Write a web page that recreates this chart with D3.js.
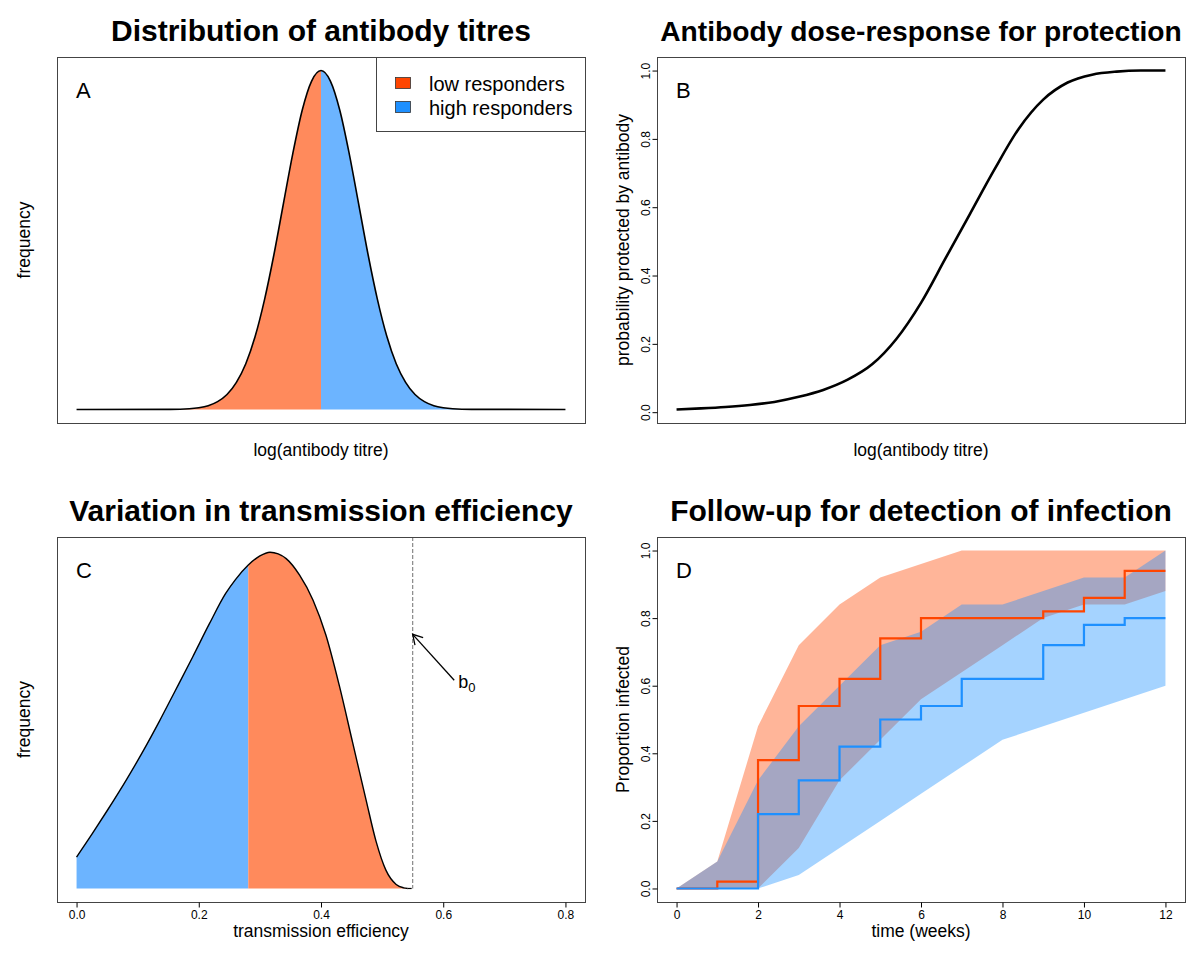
<!DOCTYPE html>
<html><head><meta charset="utf-8">
<script src="https://cdn.jsdelivr.net/npm/d3@7"></script>
<style>
body{margin:0;background:#fff}
svg{display:block}
text{font-family:"Liberation Sans",Arial,Helvetica,sans-serif;fill:#000}
</style>
</head><body>
<svg id="chart" width="1200" height="960"></svg>
<script>
// ---------- Panel A: distribution of antibody titres ----------
const titreX = [-6.5,-4,-3.5,-3.25,-3,-2.75,-2.5,-2.25,-2,-1.75,-1.5,-1.25,-1,-0.75,-0.5,-0.25,0,0.25,0.5,0.75,1,1.25,1.5,1.75,2,2.25,2.5,2.75,3,3.25,3.5,4,6.5];
const titreFreq = [0,0.0003,0.002,0.005,0.011,0.023,0.044,0.080,0.135,0.216,0.325,0.458,0.607,0.755,0.883,0.969,1.0,0.969,0.883,0.755,0.607,0.458,0.325,0.216,0.135,0.080,0.044,0.023,0.011,0.005,0.002,0.0003,0];
const titreSplit = 0;
const legendLabels = ["low responders","high responders"];

// ---------- Panel B: dose-response ----------
const doseX = [-6.5,-5.85,-5.2,-4.55,-3.9,-3.25,-2.6,-1.95,-1.3,-0.65,0,0.65,1.3,1.95,2.6,3.25,3.9,4.55,5.2,5.85,6.5];
const doseProb = [0.008,0.011,0.015,0.021,0.030,0.045,0.065,0.095,0.14,0.215,0.32,0.45,0.58,0.71,0.83,0.915,0.965,0.988,0.997,1.0,1.0];
const probTicks = [0,0.2,0.4,0.6,0.8,1.0];

// ---------- Panel C: transmission efficiency ----------
const effX = [0,0.026,0.05,0.081,0.11,0.135,0.16,0.19,0.217,0.244,0.26,0.281,0.30,0.3165,0.33,0.343,0.365,0.387,0.408,0.43,0.452,0.474,0.49,0.506,0.523,0.535,0.542];
const effFreq = [0.093,0.163,0.23,0.32,0.41,0.493,0.58,0.685,0.782,0.873,0.914,0.957,0.984,0.995,0.99,0.976,0.927,0.853,0.75,0.60,0.43,0.26,0.14,0.055,0.012,0.002,0];
const effSplit = 0.281;
const b0 = 0.55;
const effTicks = [0,0.2,0.4,0.6,0.8];
const arrowFrom = [0.618,0.616];
const arrowTo = [0.55,0.752];

// ---------- Panel D: follow-up ----------
const weeks = [0,1,2,3,4,5,6,7,8,9,10,11,12];
const lowUpper = [0,0.08,0.48,0.72,0.84,0.92,0.96,1.0,1.0,1.0,1.0,1.0,1.0];
const lowLower = [0,0,0,0.12,0.32,0.44,0.56,0.64,0.72,0.80,0.84,0.84,0.88];
const highUpper = [0,0.08,0.32,0.48,0.60,0.72,0.76,0.84,0.84,0.88,0.92,0.92,1.0];
const highLower = [0,0,0,0.04,0.12,0.20,0.28,0.36,0.44,0.48,0.52,0.56,0.60];
const lowObserved = [0,0.02,0.38,0.54,0.62,0.74,0.80,0.80,0.80,0.82,0.86,0.94,0.94];
const highObserved = [0,0,0.22,0.32,0.42,0.50,0.54,0.62,0.62,0.72,0.78,0.80,0.80];
const weekTicks = [0,2,4,6,8,10,12];

// ---------- styles ----------
const ORANGE_FILL = "#FF8A5C", BLUE_FILL = "#6CB4FF";
const ORANGE = "#FF4500", BLUE = "#1E90FF";
const BOX = "#444";

const svg = d3.select("#chart");

const panels = {
  A:{x0:57,x1:585,y0:57,y1:423},
  B:{x0:657,x1:1185,y0:57,y1:423},
  C:{x0:57,x1:585,y0:537,y1:902},
  D:{x0:657,x1:1185,y0:537,y1:902}
};

function padScale(ext, range){
  const pad=(ext[1]-ext[0])*0.04;
  return d3.scaleLinear().domain([ext[0]-pad, ext[1]+pad]).range(range);
}
function box(p){
  svg.append("rect").attr("x",p.x0+0.5).attr("y",p.y0+0.5)
    .attr("width",p.x1-p.x0).attr("height",p.y1-p.y0)
    .attr("fill","none").attr("stroke",BOX).attr("stroke-width",1);
}
function title(p, txt, baseline, size){
  svg.append("text").attr("x",(p.x0+p.x1)/2).attr("y",baseline)
    .attr("text-anchor","middle").attr("font-weight","bold").attr("font-size",size).text(txt);
}
function xlab(p, txt, baseline){
  svg.append("text").attr("x",(p.x0+p.x1)/2).attr("y",baseline)
    .attr("text-anchor","middle").attr("font-size",17.5).text(txt);
}
function ylab(p, txt, bx){
  svg.append("text").attr("transform",`translate(${bx},${(p.y0+p.y1)/2}) rotate(-90)`)
    .attr("text-anchor","middle").attr("font-size",17.5).text(txt);
}
function letter(p, txt, baseline){
  svg.append("text").attr("x",p.x0+19).attr("y",baseline).attr("font-size",22).text(txt);
}
function xAxis(p, x, ticks, fmt){
  const g = svg.append("g").attr("transform",`translate(0,${p.y1+0.5})`)
    .call(d3.axisBottom(x).tickValues(ticks).tickFormat(fmt).tickSize(5).tickPadding(3));
  g.select(".domain").remove();
  g.attr("font-size",12).attr("font-family","'Liberation Sans',Arial,sans-serif");
}
function yAxis(p, y, ticks, fmt){
  const g = svg.append("g").attr("transform",`translate(${p.x0+0.5},0)`)
    .call(d3.axisLeft(y).tickValues(ticks).tickFormat(fmt).tickSize(5));
  g.select(".domain").remove();
  g.attr("font-size",12).attr("font-family","'Liberation Sans',Arial,sans-serif");
  g.selectAll("text").attr("transform","rotate(-90)").attr("x",0).attr("y",-8).attr("dy",0)
    .attr("text-anchor","middle");
}

// ================= Panel A =================
{
  const p = panels.A;
  const x = padScale(d3.extent(titreX),[p.x0,p.x1]);
  const y = padScale([0,1],[p.y1,p.y0]);
  const pts = titreX.map((v,i)=>({x:v,y:titreFreq[i]}));
  const area = d3.area().x(d=>x(d.x)).y0(y(0)).y1(d=>y(d.y)).curve(d3.curveMonotoneX);
  svg.append("path").datum(pts.filter(d=>d.x<=titreSplit)).attr("d",area).attr("fill",ORANGE_FILL);
  svg.append("path").datum(pts.filter(d=>d.x>=titreSplit)).attr("d",area).attr("fill",BLUE_FILL);
  svg.append("path").datum(pts).attr("d",d3.line().x(d=>x(d.x)).y(d=>y(d.y)).curve(d3.curveMonotoneX))
    .attr("fill","none").attr("stroke","#000").attr("stroke-width",1.6);
  box(p);
  // legend
  const lg = svg.append("g");
  lg.append("rect").attr("x",376.5).attr("y",p.y0+0.5).attr("width",p.x1-376).attr("height",74)
    .attr("fill","#fff").attr("stroke",BOX);
  [ORANGE,BLUE].forEach((c,i)=>{
    lg.append("rect").attr("x",395.5).attr("y",77.5+i*24).attr("width",15).attr("height",11)
      .attr("fill",c).attr("stroke","#333").attr("stroke-width",0.8);
    lg.append("text").attr("x",429).attr("y",91+i*24).attr("font-size",20).text(legendLabels[i]);
  });
  title(p,"Distribution of antibody titres",41,30);
  letter(p,"A",98);
  xlab(p,"log(antibody titre)",456);
  ylab(p,"frequency",30);
}

// ================= Panel B =================
{
  const p = panels.B;
  const x = padScale(d3.extent(doseX),[p.x0,p.x1]);
  const y = padScale(d3.extent(doseProb),[p.y1,p.y0]);
  svg.append("path").datum(doseX.map((v,i)=>[v,doseProb[i]]))
    .attr("d",d3.line().x(d=>x(d[0])).y(d=>y(d[1])).curve(d3.curveMonotoneX))
    .attr("fill","none").attr("stroke","#000").attr("stroke-width",2.6);
  box(p);
  yAxis(p,y,probTicks,d3.format(".1f"));
  title(p,"Antibody dose-response for protection",41,28.2);
  letter(p,"B",98);
  xlab(p,"log(antibody titre)",456);
  ylab(p,"probability protected by antibody",629);
}

// ================= Panel C =================
{
  const p = panels.C;
  const x = padScale([effTicks[0],effTicks[effTicks.length-1]],[p.x0,p.x1]);
  const y = padScale([0,1],[p.y1,p.y0]);
  const pts = effX.map((v,i)=>({x:v,y:effFreq[i]}));
  const curve = d3.curveMonotoneX;
  // build full outline once, then clip for the two colours so they meet exactly
  const area = d3.area().x(d=>x(d.x)).y0(y(0)).y1(d=>y(d.y)).curve(curve);
  const defs = svg.append("defs");
  defs.append("clipPath").attr("id","cLeft").append("rect")
    .attr("x",p.x0).attr("y",p.y0).attr("width",x(effSplit)-p.x0).attr("height",p.y1-p.y0);
  defs.append("clipPath").attr("id","cRight").append("rect")
    .attr("x",x(effSplit)).attr("y",p.y0).attr("width",p.x1-x(effSplit)).attr("height",p.y1-p.y0);
  svg.append("path").datum(pts).attr("d",area).attr("fill",BLUE_FILL).attr("clip-path","url(#cLeft)");
  svg.append("path").datum(pts).attr("d",area).attr("fill",ORANGE_FILL).attr("clip-path","url(#cRight)");
  svg.append("path").datum(pts).attr("d",d3.line().x(d=>x(d.x)).y(d=>y(d.y)).curve(curve))
    .attr("fill","none").attr("stroke","#000").attr("stroke-width",1.4);
  svg.append("line").attr("x1",x(effX[effX.length-1])).attr("x2",x(b0)-1).attr("y1",y(0)).attr("y2",y(0))
    .attr("stroke","#000").attr("stroke-width",1.2);
  // b0 dashed line
  svg.append("line").attr("x1",x(b0)).attr("x2",x(b0)).attr("y1",p.y0).attr("y2",y(0))
    .attr("stroke","#888").attr("stroke-width",1.2).attr("stroke-dasharray","4,2");
  // arrow
  const ax1=x(arrowFrom[0]), ay1=y(arrowFrom[1]), ax2=x(arrowTo[0]), ay2=y(arrowTo[1]);
  svg.append("line").attr("x1",ax1).attr("y1",ay1).attr("x2",ax2).attr("y2",ay2)
    .attr("stroke","#000").attr("stroke-width",1.3);
  const ang = Math.atan2(ay1-ay2, ax1-ax2), hl=11, ha=Math.PI/6;
  svg.append("path").attr("d",
    `M${ax2+hl*Math.cos(ang-ha)},${ay2+hl*Math.sin(ang-ha)}L${ax2},${ay2}L${ax2+hl*Math.cos(ang+ha)},${ay2+hl*Math.sin(ang+ha)}`)
    .attr("fill","none").attr("stroke","#000").attr("stroke-width",1.3);
  const bt = svg.append("text").attr("x",ax1+4).attr("y",ay1+8).attr("font-size",18);
  bt.append("tspan").text("b");
  bt.append("tspan").attr("font-size",13).attr("dy",4).text("0");
  box(p);
  xAxis(p,x,effTicks,d3.format(".1f"));
  title(p,"Variation in transmission efficiency",521,30);
  letter(p,"C",578);
  xlab(p,"transmission efficiency",937);
  ylab(p,"frequency",30);
}

// ================= Panel D =================
{
  const p = panels.D;
  const x = padScale(d3.extent(weeks),[p.x0,p.x1]);
  const y = padScale([0,1],[p.y1,p.y0]);
  const band = (lo,hi)=>d3.area().x((d,i)=>x(weeks[i])).y0((d,i)=>y(lo[i])).y1((d,i)=>y(hi[i]));
  svg.append("path").datum(weeks).attr("d",band(lowLower,lowUpper)).attr("fill",ORANGE).attr("fill-opacity",0.4);
  svg.append("path").datum(weeks).attr("d",band(highLower,highUpper)).attr("fill",BLUE).attr("fill-opacity",0.4);
  const step = arr=>d3.line().x((d,i)=>x(weeks[i])).y((d,i)=>y(arr[i])).curve(d3.curveStepAfter);
  svg.append("path").datum(weeks).attr("d",step(lowObserved)).attr("fill","none").attr("stroke",ORANGE).attr("stroke-width",2.2);
  svg.append("path").datum(weeks).attr("d",step(highObserved)).attr("fill","none").attr("stroke",BLUE).attr("stroke-width",2.2);
  box(p);
  xAxis(p,x,weekTicks,d3.format("d"));
  yAxis(p,y,probTicks,d3.format(".1f"));
  title(p,"Follow-up for detection of infection",521,30);
  letter(p,"D",578);
  xlab(p,"time (weeks)",937);
  ylab(p,"Proportion infected",629);
}
</script>
</body></html>
